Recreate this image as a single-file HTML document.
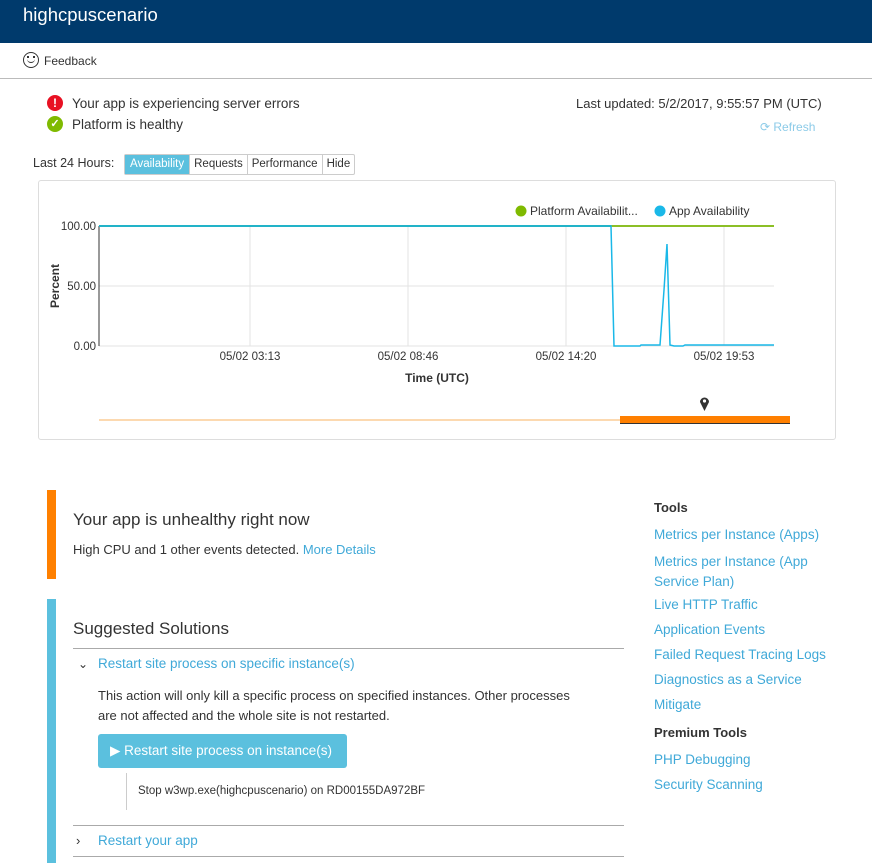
<!DOCTYPE html>
<html><head><meta charset="utf-8"><style>
*{margin:0;padding:0;box-sizing:border-box}
body{width:872px;height:863px;overflow:hidden;background:#fff;font-family:"Liberation Sans",sans-serif;color:#333;position:relative}
.a{position:absolute;white-space:nowrap}
.lk{color:#40a9d8}
.tl{font-size:13.5px;color:#40a9d8}
</style></head><body>
<div class="a" style="left:0;top:0;width:872px;height:43px;background:#003a6c"></div>
<div class="a" style="left:23px;top:4px;font-size:18.5px;color:#fff">highcpuscenario</div>
<div class="a" style="left:23px;top:52px;width:16px;height:16px;border:1.5px solid #333;border-radius:50%"></div>
<div class="a" style="left:27px;top:56px;width:2px;height:2px;background:#333"></div>
<div class="a" style="left:33px;top:56px;width:2px;height:2px;background:#333"></div>
<div class="a" style="left:27px;top:59px;width:8px;height:4px;border-bottom:1.5px solid #333;border-radius:0 0 4px 4px"></div>
<div class="a" style="left:44px;top:54px;font-size:12px">Feedback</div>
<div class="a" style="left:0;top:78px;width:872px;height:1px;background:#bbb"></div>

<div class="a" style="left:47px;top:95px;width:16px;height:16px;border-radius:50%;background:#e81123;color:#fff;font-size:12px;font-weight:bold;text-align:center;line-height:16px">!</div>
<div class="a" style="left:72px;top:96px;font-size:13.5px">Your app is experiencing server errors</div>
<div class="a" style="left:47px;top:116px;width:16px;height:16px;border-radius:50%;background:#7fba00;color:#fff;font-size:11px;font-weight:bold;text-align:center;line-height:16px">✓</div>
<div class="a" style="left:72px;top:117px;font-size:13.5px">Platform is healthy</div>
<div class="a" style="left:576px;top:96px;font-size:13px">Last updated: 5/2/2017, 9:55:57 PM (UTC)</div>
<div class="a" style="left:760px;top:120px;font-size:12px;color:#8ccbe8">⟳ Refresh</div>

<div class="a" style="left:33px;top:156px;font-size:12.5px">Last 24 Hours:</div>
<div class="a" style="left:124px;top:154px;height:21px;display:flex;font-size:11.5px;border:1px solid #ccc;border-radius:2px">
<div style="background:#5bc0de;color:#fff;padding:3px 5px">Availability</div>
<div style="padding:3px 4px;border-left:1px solid #ccc">Requests</div>
<div style="padding:3px 4px;border-left:1px solid #ccc">Performance</div>
<div style="padding:3px 4px;border-left:1px solid #ccc">Hide</div>
</div>

<div class="a" style="left:38px;top:180px;width:798px;height:260px;border:1px solid #ddd;border-radius:3px"></div>
<svg class="a" style="left:0;top:0" width="872" height="450" font-family="Liberation Sans, sans-serif" font-size="11.5" fill="#333">
<g stroke="#e3e3e3" stroke-width="1">
<line x1="99" y1="286" x2="774" y2="286"/><line x1="99" y1="346" x2="774" y2="346"/>
<line x1="250" y1="226" x2="250" y2="346"/><line x1="408" y1="226" x2="408" y2="346"/><line x1="566" y1="226" x2="566" y2="346"/><line x1="724" y1="226" x2="724" y2="346"/>
</g>
<line x1="99" y1="226" x2="99" y2="346" stroke="#333"/>
<line x1="99" y1="226" x2="774" y2="226" stroke="#8cbf26" stroke-width="2"/>
<polyline fill="none" stroke="#1ab8e8" stroke-width="1.5" points="99,226 611,226 614,346 640,346 641,345 650,345 651,345 660,345 664,290 667,244 670,345 674,346 683,346 685,345 774,345"/>
<line x1="99" y1="226" x2="611" y2="226" stroke="#22b3c8" stroke-width="2"/>
<text x="96" y="230" text-anchor="end">100.00</text>
<text x="96" y="290" text-anchor="end">50.00</text>
<text x="96" y="350" text-anchor="end">0.00</text>
<text x="250" y="360" text-anchor="middle">05/02 03:13</text>
<text x="408" y="360" text-anchor="middle">05/02 08:46</text>
<text x="566" y="360" text-anchor="middle">05/02 14:20</text>
<text x="724" y="360" text-anchor="middle">05/02 19:53</text>
<text x="437" y="382" text-anchor="middle" font-weight="bold" font-size="12">Time (UTC)</text>
<text transform="translate(59,286) rotate(-90)" text-anchor="middle" font-weight="bold" font-size="12">Percent</text>
<circle cx="521" cy="211" r="5.5" fill="#7fba00"/><text x="530" y="215" font-size="12">Platform Availabilit...</text>
<circle cx="660" cy="211" r="5.5" fill="#1ab8e8"/><text x="669" y="215" font-size="12">App Availability</text>
<line x1="99" y1="420" x2="620" y2="420" stroke="#fcd9b0" stroke-width="2"/>
<rect x="620" y="416" width="170" height="7" fill="#ff7f00"/>
<line x1="620" y1="423.5" x2="790" y2="423.5" stroke="#333"/>
<path d="M704.5,411 L700,402 A4.5,4.5 0 1 1 709,402 Z" fill="#333"/><circle cx="704.5" cy="401" r="1.6" fill="#fff"/>
</svg>

<div class="a" style="left:47px;top:490px;width:9px;height:89px;background:#ff8000"></div>
<div class="a" style="left:73px;top:510px;font-size:17px">Your app is unhealthy right now</div>
<div class="a" style="left:73px;top:542px;font-size:13px">High CPU and 1 other events detected. <span class="lk">More Details</span></div>

<div class="a" style="left:47px;top:599px;width:9px;height:264px;background:#5bc0de"></div>
<div class="a" style="left:73px;top:619px;font-size:17px">Suggested Solutions</div>
<div class="a" style="left:73px;top:648px;width:551px;height:1px;background:#aaa"></div>
<div class="a" style="left:78px;top:657px;font-size:12px">⌄</div>
<div class="a tl" style="left:98px;top:656px">Restart site process on specific instance(s)</div>
<div class="a" style="left:98px;top:686px;font-size:13px;line-height:20px;white-space:normal;width:490px">This action will only kill a specific process on specified instances. Other processes are not affected and the whole site is not restarted.</div>
<div class="a" style="left:98px;top:734px;width:249px;height:34px;background:#5bc0de;border-radius:3px;color:#fff;font-size:13.5px;line-height:34px;padding-left:12px">▶ Restart site process on instance(s)</div>
<div class="a" style="left:126px;top:773px;width:1px;height:37px;background:#ccc"></div>
<div class="a" style="left:138px;top:785px;font-size:11.5px">Stop w3wp.exe(highcpuscenario) on RD00155DA972BF</div>
<div class="a" style="left:73px;top:825px;width:551px;height:1px;background:#aaa"></div>
<div class="a" style="left:76px;top:833px;font-size:13px">›</div>
<div class="a tl" style="left:98px;top:833px">Restart your app</div>
<div class="a" style="left:73px;top:856px;width:551px;height:1px;background:#aaa"></div>

<div class="a" style="left:654px;top:500px;font-size:13px;font-weight:bold;color:#333">Tools</div>
<div class="a tl" style="left:654px;top:527px">Metrics per Instance (Apps)</div>
<div class="a tl" style="left:654px;top:552px;line-height:20px">Metrics per Instance (App<br>Service Plan)</div>
<div class="a tl" style="left:654px;top:597px">Live HTTP Traffic</div>
<div class="a tl" style="left:654px;top:622px">Application Events</div>
<div class="a tl" style="left:654px;top:647px">Failed Request Tracing Logs</div>
<div class="a tl" style="left:654px;top:672px">Diagnostics as a Service</div>
<div class="a tl" style="left:654px;top:697px">Mitigate</div>
<div class="a" style="left:654px;top:725px;font-size:13px;font-weight:bold;color:#333">Premium Tools</div>
<div class="a tl" style="left:654px;top:752px">PHP Debugging</div>
<div class="a tl" style="left:654px;top:777px">Security Scanning</div>
</body></html>
